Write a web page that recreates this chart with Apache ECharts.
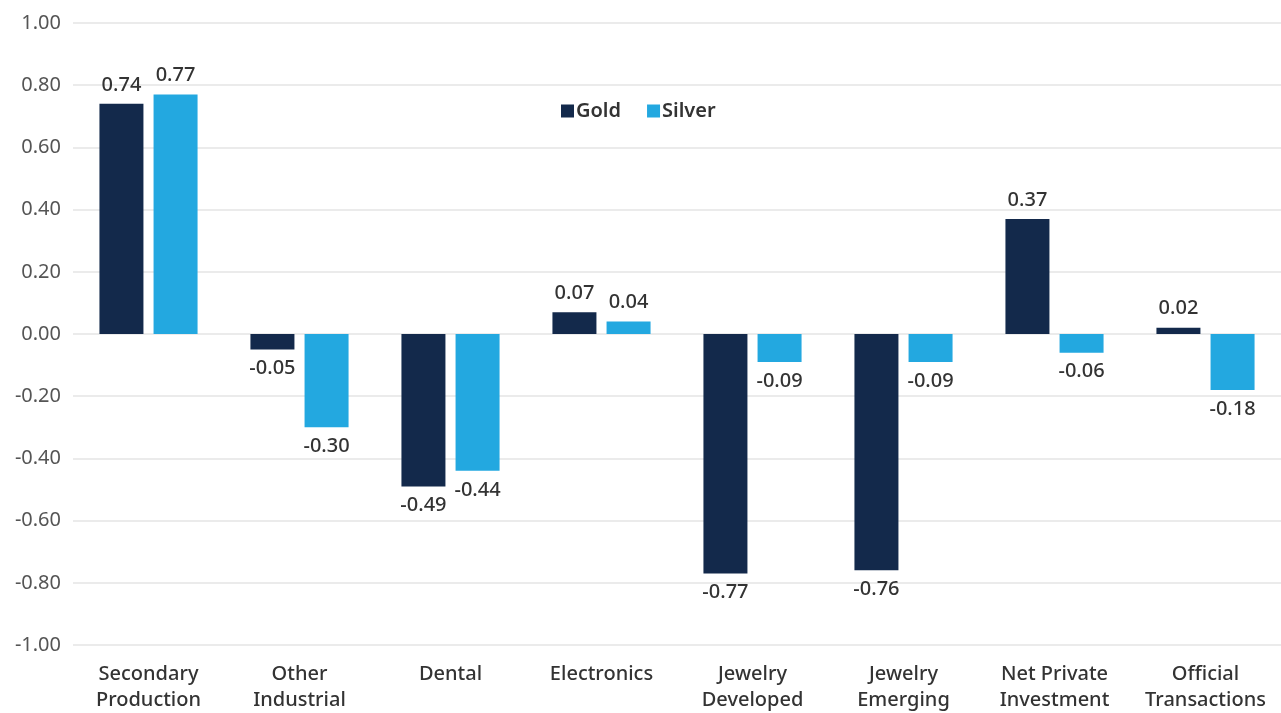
<!DOCTYPE html>
<html>
<head>
<meta charset="utf-8">
<script src="https://cdn.jsdelivr.net/npm/echarts@6/dist/echarts.min.js"></script>
<style>
html,body{margin:0;padding:0;background:#fff;}
#chart{width:1281px;height:713px;}
</style>
</head>
<body>
<div id="chart"></div>
<script>
const categories = ['Secondary\nProduction','Other\nIndustrial','Dental','Electronics','Jewelry\nDeveloped','Jewelry\nEmerging','Net Private\nInvestment','Official\nTransactions'];
const goldValues = [0.74, -0.05, -0.49, 0.07, -0.77, -0.76, 0.37, 0.02];
const silverValues = [0.77, -0.30, -0.44, 0.04, -0.09, -0.09, -0.06, -0.18];
const yTicks = { min: -1, max: 1, interval: 0.2 };

const FONT = 'Noto Sans';
function withLabels(vals){
  return vals.map(v => ({
    value: v,
    label: { position: v >= 0 ? 'top' : 'bottom' }
  }));
}
const labelStyle = {
  show: true,
  distance: 9,
  fontFamily: FONT,
  fontSize: 20,
  fontWeight: 500,
  color: '#333',
  formatter: p => p.value.toFixed(2)
};

const chart = echarts.init(document.getElementById('chart'));
chart.setOption({
  animation: false,
  backgroundColor: '#fff',
  textStyle: { fontFamily: FONT },
  legend: {
    data: ['Gold','Silver'],
    left: 556, top: 96,
    itemWidth: 13, itemHeight: 13, itemGap: 26,
    icon: 'rect',
    textStyle: { fontFamily: FONT, fontSize: 20, fontWeight: 600, color: '#333', padding: [0,0,0,-3] }
  },
  grid: { left: 73, right: 0, top: 23, bottom: 63, containLabel: false },
  xAxis: {
    type: 'category',
    data: categories,
    axisLine: { show: false },
    axisTick: { show: false },
    axisLabel: {
      interval: 0, margin: 16,
      fontFamily: FONT, fontSize: 20, fontWeight: 500, color: '#333', lineHeight: 26
    }
  },
  yAxis: {
    type: 'value',
    min: yTicks.min, max: yTicks.max, interval: yTicks.interval,
    axisLine: { show: false },
    axisTick: { show: false },
    splitLine: { lineStyle: { color: '#e4e4e4', width: 1.5 } },
    axisLabel: {
      margin: 12,
      fontFamily: FONT, fontSize: 20, color: '#555',
      formatter: v => v.toFixed(2)
    }
  },
  series: [
    {
      name: 'Gold', type: 'bar',
      data: withLabels(goldValues),
      barWidth: 44, barGap: '23%',
      itemStyle: { color: '#13294B' },
      label: labelStyle
    },
    {
      name: 'Silver', type: 'bar',
      data: withLabels(silverValues),
      barWidth: 44,
      itemStyle: { color: '#23A8E0' },
      label: labelStyle
    }
  ]
});
</script>
</body>
</html>
